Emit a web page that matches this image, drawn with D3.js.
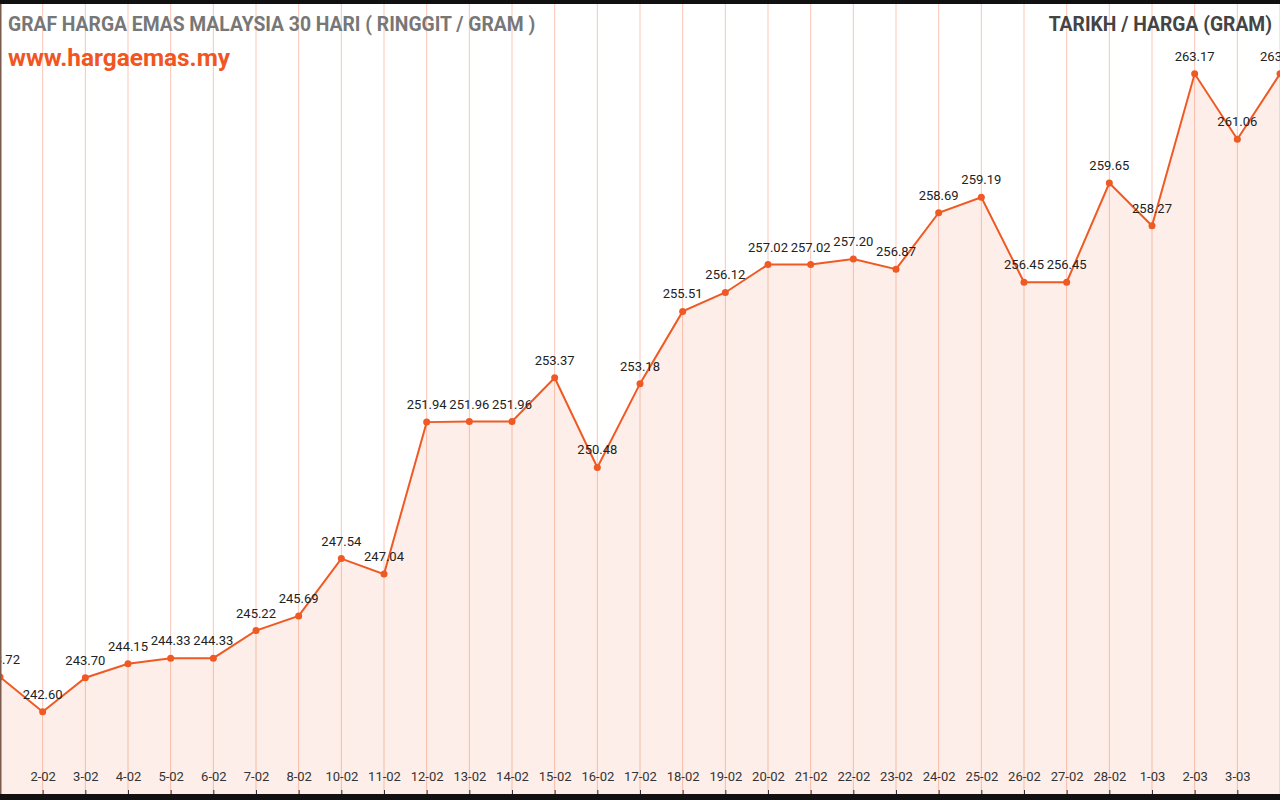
<!DOCTYPE html>
<html>
<head>
<meta charset="utf-8">
<script src="https://cdn.jsdelivr.net/npm/d3@7"></script>
<style>
  html, body { margin: 0; padding: 0; background: #fff; }
  svg { display: block; font-family: Roboto, "Noto Sans", sans-serif; }
</style>
</head>
<body>
<div id="chart"></div>
<script>
// tarikh (date) and harga (price per gram, RM)
const dates = ["1-02", "2-02", "3-02", "4-02", "5-02", "6-02", "7-02", "8-02", "10-02", "11-02",
    "12-02", "13-02", "14-02", "15-02", "16-02", "17-02", "18-02", "19-02", "20-02", "21-02",
    "22-02", "23-02", "24-02", "25-02", "26-02", "27-02", "28-02", "1-03", "2-03", "3-03", "4-03"];
const prices = [243.72, 242.60, 243.70, 244.15, 244.33, 244.33, 245.22, 245.69, 247.54, 247.04,
    251.94, 251.96, 251.96, 253.37, 250.48, 253.18, 255.51, 256.12, 257.02, 257.02,
    257.20, 256.87, 258.69, 259.19, 256.45, 256.45, 259.65, 258.27, 263.17, 261.06, 263.17];
const priceDomain = [239.95, 265.55];

const titleText = "GRAF HARGA EMAS MALAYSIA 30 HARI ( RINGGIT / GRAM )";
const siteText = "www.hargaemas.my";
const legendText = "TARIKH / HARGA (GRAM)";

const width = 1280, height = 800;
const plotBottom = 794;
const orange = "#ef5a24";

const data = dates.map((d, i) => ({date: d, price: prices[i]}));

const svg = d3.select("#chart").append("svg")
    .attr("width", width)
    .attr("height", height);

const x = d3.scalePoint()
    .domain(dates)
    .range([0, width]);

const y = d3.scaleLinear()
    .domain(priceDomain)
    .range([plotBottom, 0]);

// vertical grid lines, one per day
svg.append("g")
    .selectAll("line")
    .data(dates)
    .enter().append("line")
    .attr("x1", d => x(d))
    .attr("x2", d => x(d))
    .attr("y1", 0)
    .attr("y2", plotBottom)
    .attr("stroke", "#f9c6b6")
    .attr("stroke-width", 1);

// area under the line
const area = d3.area()
    .x(d => x(d.date))
    .y0(plotBottom)
    .y1(d => y(d.price));

svg.append("path")
    .datum(data)
    .attr("d", area)
    .attr("fill", orange)
    .attr("fill-opacity", 0.1);

const line = d3.line()
    .x(d => x(d.date))
    .y(d => y(d.price));

svg.append("path")
    .datum(data)
    .attr("d", line)
    .attr("fill", "none")
    .attr("stroke", orange)
    .attr("stroke-width", 2);

svg.append("g")
    .selectAll("circle")
    .data(data)
    .enter().append("circle")
    .attr("cx", d => x(d.date))
    .attr("cy", d => y(d.price))
    .attr("r", 3.5)
    .attr("fill", orange);

// value labels above points
svg.append("g")
    .selectAll("text")
    .data(data)
    .enter().append("text")
    .attr("x", d => x(d.date))
    .attr("y", d => y(d.price) - 13)
    .attr("text-anchor", "middle")
    .attr("font-size", "13px")
    .attr("fill", "#222")
    .text(d => d.price.toFixed(2));

// x axis: ticks and date labels (edge labels dropped like the original)
const xAxis = d3.axisBottom(x)
    .tickSize(4)
    .tickSizeOuter(0)
    .tickFormat((d, i) => (i === 0 || i === dates.length - 1) ? "" : d);

const axisG = svg.append("g")
    .attr("transform", `translate(0,${plotBottom - 4})`)
    .call(xAxis);
axisG.select(".domain").remove();
axisG.selectAll(".tick line").attr("stroke", "#333");
axisG.selectAll(".tick text")
    .attr("y", -9)
    .attr("dy", 0)
    .attr("font-size", "13px")
    .attr("font-family", "Roboto, sans-serif")
    .attr("fill", "#333");

// frame bands
svg.append("rect").attr("x", 0).attr("y", 0).attr("width", width).attr("height", 4).attr("fill", "#111");
svg.append("rect").attr("x", 0).attr("y", plotBottom).attr("width", width).attr("height", height - plotBottom).attr("fill", "#111");
svg.append("rect").attr("x", 0).attr("y", 4).attr("width", 1.5).attr("height", plotBottom - 4).attr("fill", "#7b5b4c");

// titles
svg.append("text")
    .attr("x", 8)
    .attr("y", 31)
    .attr("font-size", "19.3px")
    .attr("font-weight", "bold")
    .attr("fill", "#777")
    .text(titleText);

svg.append("text")
    .attr("x", 8)
    .attr("y", 66)
    .attr("font-size", "24.4px")
    .attr("font-weight", "bold")
    .attr("fill", "#f05522")
    .text(siteText);

svg.append("text")
    .attr("x", 1272)
    .attr("y", 31)
    .attr("text-anchor", "end")
    .attr("font-size", "19.3px")
    .attr("font-weight", "bold")
    .attr("fill", "#444")
    .text(legendText);
</script>
</body>
</html>
